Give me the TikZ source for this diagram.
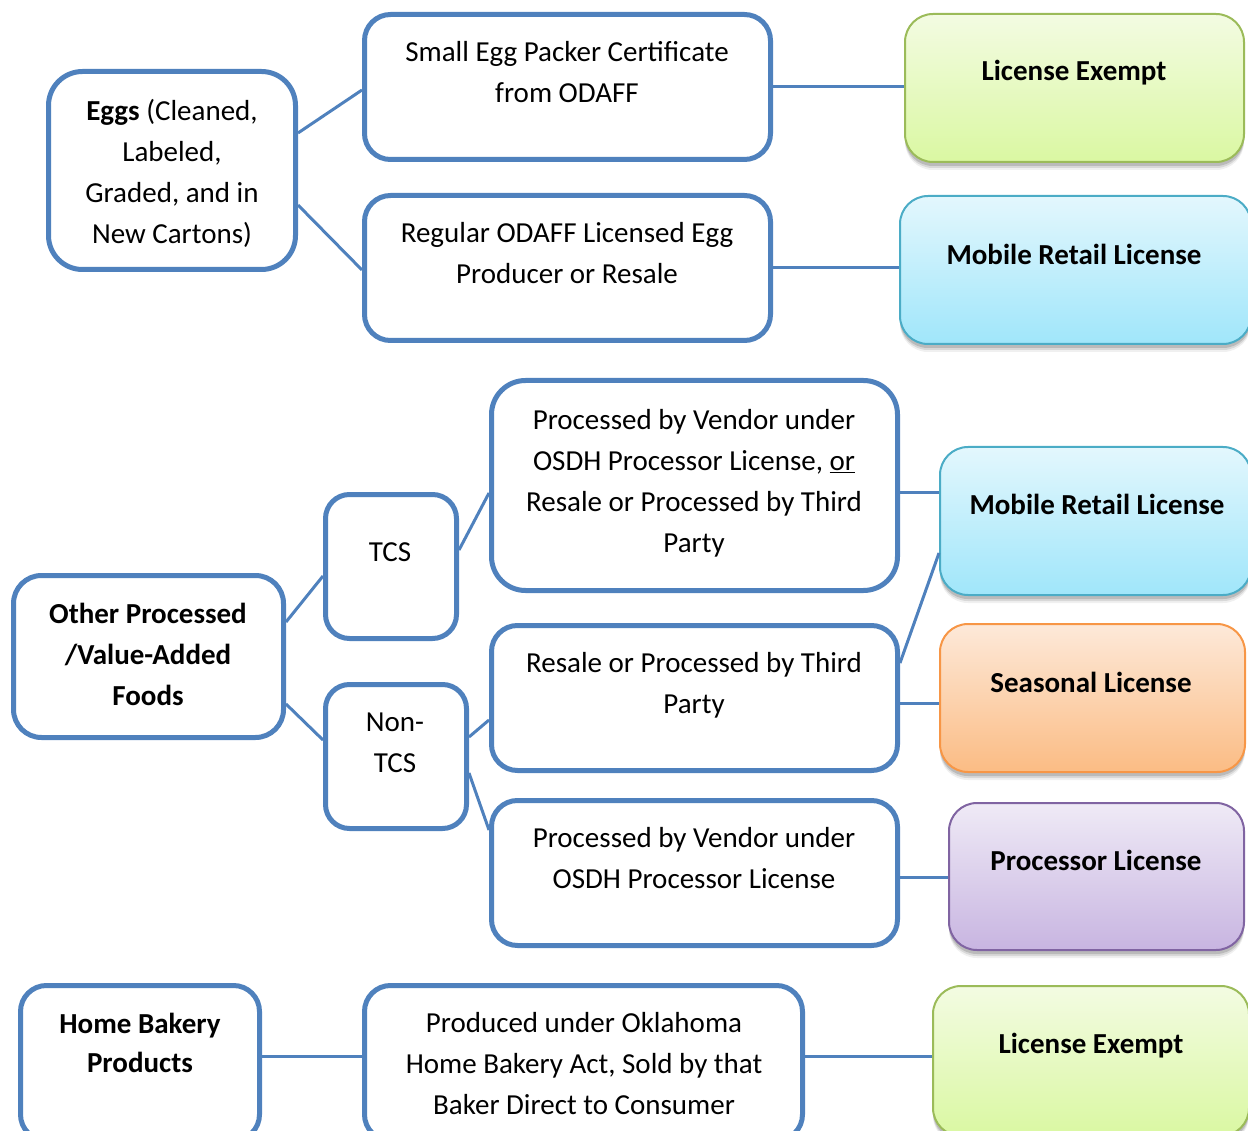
\documentclass[tikz,border=0pt]{standalone}
\usepackage{fontspec}
\setmainfont{Carlito}
\usetikzlibrary{shadows,calc}
\definecolor{boxblue}{HTML}{4F81BD}
\definecolor{gtop}{HTML}{F3FBE2}\definecolor{gbot}{HTML}{DAF8A2}\definecolor{gbrd}{HTML}{9BBB59}
\definecolor{btop}{HTML}{E3F7FD}\definecolor{bbot}{HTML}{A0E6FA}\definecolor{bbrd}{HTML}{4BACC6}
\definecolor{otop}{HTML}{FDE9D9}\definecolor{obot}{HTML}{FBBC84}\definecolor{obrd}{HTML}{F79646}
\definecolor{ptop}{HTML}{EFEAF6}\definecolor{pbot}{HTML}{C8B5E1}\definecolor{pbrd}{HTML}{8064A2}
\newcommand\firstst{\rule{0pt}{23pt}}
\tikzset{
  wbox/.style={draw=boxblue, line width=5pt, fill=white, rounded corners=26pt, inner sep=0pt},
  lbox/.style={line width=2pt, rounded corners=28pt, inner sep=0pt,
    drop shadow={shadow xshift=0pt, shadow yshift=-8pt, opacity=0.06, fill=black},
    drop shadow={shadow xshift=0pt, shadow yshift=-6pt, opacity=0.10, fill=black},
    drop shadow={shadow xshift=0pt, shadow yshift=-4pt, opacity=0.14, fill=black}},
  greenbox/.style={lbox, draw=gbrd, top color=gtop, bottom color=gbot},
  bluebox/.style={lbox, draw=bbrd, top color=btop, bottom color=bbot},
  orangebox/.style={lbox, draw=obrd, top color=otop, bottom color=obot},
  purplebox/.style={lbox, draw=pbrd, top color=ptop, bottom color=pbot},
  conn/.style={draw=boxblue, line width=3pt},
  txt/.style={anchor=north, align=center, inner sep=0pt, font=\fontsize{29}{41}\selectfont},
  btxt/.style={txt, font=\fontsize{29}{41}\selectfont\bfseries},
}
\begin{document}
\begin{tikzpicture}[x=1pt,y=-1pt]
\useasboundingbox (0,0) rectangle (1248,1131);
% white boxes
\node[wbox, rounded corners=34pt, minimum width=247pt, minimum height=198pt] (eggs) at (172,170.5) {};
\node[wbox, minimum width=406pt, minimum height=145pt] (small) at (567.5,87) {};
\node[wbox, minimum width=406pt, minimum height=145pt] (regular) at (567.5,268) {};
\node[wbox, rounded corners=24pt, minimum width=131pt, minimum height=144pt] (tcs) at (391,566.5) {};
\node[wbox, rounded corners=28pt, minimum width=270pt, minimum height=162pt] (other) at (148.5,656.5) {};
\node[wbox, rounded corners=24pt, minimum width=141pt, minimum height=144pt] (nontcs) at (396,756.5) {};
\node[wbox, rounded corners=34pt, minimum width=406pt, minimum height=210pt] (proc1) at (694.5,485.5) {};
\node[wbox, minimum width=406pt, minimum height=145pt] (resale) at (694.5,698) {};
\node[wbox, minimum width=406pt, minimum height=145pt] (proc2) at (694.5,873) {};
\node[wbox, minimum width=239pt, minimum height=155pt] (home) at (140,1063) {};
\node[wbox, minimum width=438pt, minimum height=155pt] (prod) at (583.5,1063) {};
% licence boxes
\node[greenbox, minimum width=339pt, minimum height=148pt] (lic1) at (1074.5,88) {};
\node[bluebox, minimum width=351pt, minimum height=148pt] (mob1) at (1075.5,270) {};
\node[bluebox, minimum width=311pt, minimum height=148pt] (mob2) at (1095.5,521) {};
\node[orangebox, minimum width=305pt, minimum height=148pt] (seas) at (1092.5,698) {};
\node[purplebox, minimum width=295pt, minimum height=147pt] (procl) at (1096.5,876.5) {};
\node[greenbox, minimum width=316pt, minimum height=150pt] (lic3) at (1091,1061) {};
% connectors
\draw[conn] ([yshift=37.5pt]eggs.east) -- ([yshift=-3pt]small.west);
\draw[conn] ([yshift=-34.5pt]eggs.east) -- ([yshift=-2pt]regular.west);
\draw[conn] (small.east) -- (small.east -| lic1.west);
\draw[conn] (regular.east) -- (regular.east -| mob1.west);
\draw[conn] ([yshift=34.5pt]other.east) -- ([yshift=-9.5pt]tcs.west);
\draw[conn] ([yshift=-47.5pt]other.east) -- ([yshift=16.5pt]nontcs.west);
\draw[conn] ([yshift=16.5pt]tcs.east) -- ([yshift=-7.5pt]proc1.west);
\draw[conn] ([yshift=19.5pt]nontcs.east) -- ([yshift=-22pt]resale.west);
\draw[conn] ([yshift=-16.5pt]nontcs.east) -- ([yshift=43pt]proc2.west);
\draw[conn] ([yshift=-6.5pt]proc1.east) -- ([yshift=-6.5pt]proc1.east -| mob2.west);
\draw[conn] ([yshift=35pt]resale.east) -- ([yshift=-32pt]mob2.west);
\draw[conn] ([yshift=-5pt]resale.east) -- ([yshift=-5pt]resale.east -| seas.west);
\draw[conn] ([yshift=-4pt]proc2.east) -- ([yshift=-4pt]proc2.east -| procl.west);
\draw[conn] ([yshift=7pt]home.east) -- ([yshift=7pt]home.east -| prod.west);
\draw[conn] ([yshift=7pt]prod.east) -- ([yshift=7pt]prod.east -| lic3.west);
% texts
\node[txt] (t-eggs) at (172,97) {\firstst\textbf{Eggs} (Cleaned,\\Labeled,\\Graded, and in\\New Cartons)};
\node[txt] (t-small) at (567,38) {\firstst Small Egg Packer Certificate\\from ODAFF};
\node[txt] (t-regular) at (567,219) {\firstst Regular ODAFF Licensed Egg\\Producer or Resale};
\node[btxt] (t-lic1) at (1074,57) {\firstst License Exempt};
\node[btxt] (t-mob1) at (1074,241) {\firstst Mobile Retail License};
\node[txt] (t-tcs) at (390,538) {\firstst TCS};
\node[btxt] (t-other) at (148,600) {\firstst Other Processed\\/Value-Added\\Foods};
\node[txt] (t-nontcs) at (395,708) {\firstst Non-\\TCS};
\node[txt] (t-proc1) at (694,406) {\firstst Processed by Vendor under\\OSDH Processor License, \underline{or}\\Resale or Processed by Third\\Party};
\node[txt] (t-resale) at (694,649) {\firstst Resale or Processed by Third\\Party};
\node[txt] (t-proc2) at (694,824) {\firstst Processed by Vendor under\\OSDH Processor License};
\node[btxt] (t-mob2) at (1097,491) {\firstst Mobile Retail License};
\node[btxt] (t-seas) at (1091,669) {\firstst Seasonal License};
\node[btxt] (t-procl) at (1096,847) {\firstst Processor License};
\node[btxt, font=\fontsize{29}{39}\selectfont\bfseries] (t-home) at (140,1010) {\firstst Home Bakery\\Products};
\node[txt] (t-prod) at (584,1009) {\firstst Produced under Oklahoma\\Home Bakery Act, Sold by that\\Baker Direct to Consumer};
\node[btxt] (t-lic3) at (1091,1030) {\firstst License Exempt};
\end{tikzpicture}
\end{document}
